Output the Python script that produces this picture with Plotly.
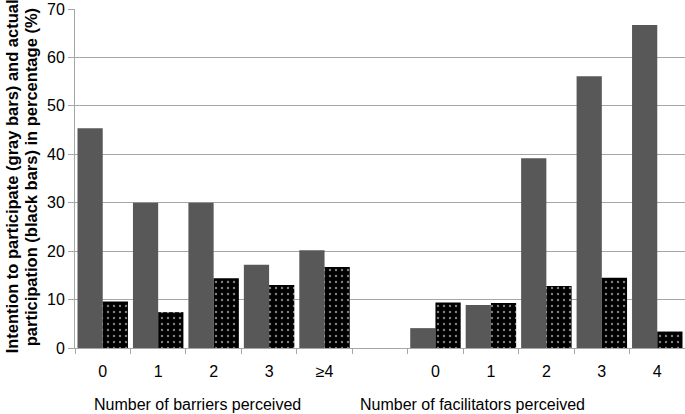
import plotly.graph_objects as go

# Data
barrier_labels = ["0", "1", "2", "3", "≥4"]
facilitator_labels = ["0", "1", "2", "3", "4"]
barrier_intention = [45.4, 30.0, 30.0, 17.2, 20.2]
barrier_participation = [9.6, 7.4, 14.4, 13.0, 16.7]
facilitator_intention = [4.1, 8.9, 39.2, 56.1, 66.7]
facilitator_participation = [9.4, 9.3, 12.8, 14.5, 3.4]

# positions: barriers 0..4, gap at 5, facilitators 6..10
x_barriers = list(range(len(barrier_labels)))
x_facil = [len(barrier_labels) + 1 + i for i in range(len(facilitator_labels))]
xs = x_barriers + x_facil
tick_text = barrier_labels + facilitator_labels
intention = barrier_intention + facilitator_intention
participation = barrier_participation + facilitator_participation

GRAY = "#585858"
LINE = "#a6a6a6"
FONT = "Liberation Sans, Arial, sans-serif"

fig = go.Figure()
fig.add_bar(x=xs, y=intention, marker=dict(color=GRAY, line=dict(width=0)),
            name="Intention")
fig.add_bar(x=xs, y=participation,
            marker=dict(color="black", line=dict(width=0),
                        pattern=dict(shape=".", fgcolor="white", bgcolor="black",
                                     size=6, solidity=0.12)),
            name="Participation")

fig.update_layout(
    width=685, height=414,
    margin=dict(l=75, r=0, t=9, b=66),
    paper_bgcolor="white", plot_bgcolor="white",
    barmode="group", bargap=0.09, bargroupgap=0,
    showlegend=False,
    font=dict(family=FONT, size=16, color="black"),
)
fig.update_xaxes(
    range=[-0.5, 10.5], tickvals=xs, ticktext=tick_text, ticks="",
    showgrid=False, showline=True, linecolor=LINE, linewidth=1,
    zeroline=False, tickfont=dict(size=16), automargin=False,
    ticklabelstandoff=9,
    minor=dict(tick0=-0.5, dtick=1, ticks="outside", ticklen=5,
               tickcolor=LINE, showgrid=False),
)
fig.update_yaxes(
    range=[0, 70], dtick=10, showgrid=True, gridcolor=LINE, gridwidth=1,
    showline=True, linecolor=LINE, linewidth=1, ticks="outside", ticklen=6,
    tickcolor=LINE, zeroline=False, tickfont=dict(size=16), automargin=False,
)
fig.add_annotation(x=-0.104, y=0.505, xref="paper", yref="paper", textangle=-90,
                   text="<b>Intention to participate (gray bars) and actual</b>",
                   showarrow=False, font=dict(size=16.5), xanchor="center",
                   yanchor="middle")
fig.add_annotation(x=-0.073, y=0.505, xref="paper", yref="paper", textangle=-90,
                   text="<b>participation (black bars) in percentage (%)</b>",
                   showarrow=False, font=dict(size=16.5), xanchor="center",
                   yanchor="middle")
fig.add_annotation(x=1.71, y=-0.168, xref="x", yref="paper",
                   text="Number of barriers perceived", showarrow=False,
                   font=dict(size=16), xanchor="center", yanchor="middle")
fig.add_annotation(x=6.67, y=-0.168, xref="x", yref="paper",
                   text="Number of facilitators perceived", showarrow=False,
                   font=dict(size=16), xanchor="center", yanchor="middle")

fig.write_html("out.html", config={"displayModeBar": False},
               post_script="document.body.style.margin='0';")
